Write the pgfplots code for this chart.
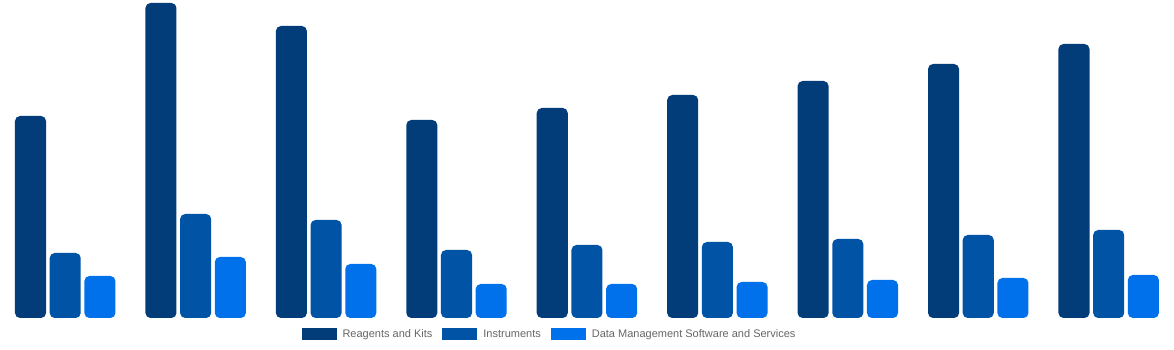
\documentclass[border=0pt]{standalone}
\usepackage{pgfplots}
\usepackage{pgfplotstable}
\pgfplotsset{compat=1.18}
\usepackage{fontspec}
\setmainfont{Liberation Sans}
\definecolor{cA}{HTML}{023D7A}
\definecolor{cB}{HTML}{0053A5}
\definecolor{cC}{HTML}{0070EB}
\definecolor{txt}{HTML}{666666}
% heights of the bars (pixel units of the reference)
\pgfplotstableread{
x a b c
0 202 65 42
1 315 104 61
2 292 98 54
3 198 68 34
4 210 73 34
5 223 76 36
6 237 79 38
7 254 83 40
8 274 88 43
}\data
\begin{document}
\begin{tikzpicture}
\useasboundingbox (0,-32bp) rectangle (1174bp,318bp);
\begin{axis}[
  width=1174bp, height=318bp, scale only axis,
  xmin=-0.5, xmax=8.5, ymin=20, ymax=338,
  hide axis,
  legend columns=-1,
  legend style={at={(0.4681,-0.0503)}, anchor=center, draw=none, fill=none,
    font=\fontsize{11bp}{13bp}\selectfont, text=txt,
    /tikz/every odd column/.append style={column sep=4bp},
    /tikz/every even column/.append style={column sep=8bp}},
  legend image code/.code={\fill[#1, sharp corners] (0bp,-6bp) rectangle (35bp,6bp);},
  every axis plot/.append style={ybar, bar width=0.238, draw=none, rounded corners=5bp},
]
\addplot[fill=cA, bar shift=-0.266] table[x=x, y expr=\thisrow{a}+20] {\data};
\addplot[fill=cB, bar shift=0] table[x=x, y expr=\thisrow{b}+20] {\data};
\addplot[fill=cC, bar shift=0.266] table[x=x, y expr=\thisrow{c}+20] {\data};
\legend{Reagents and Kits, Instruments, Data Management Software and Services}
\end{axis}
\end{tikzpicture}
\end{document}
